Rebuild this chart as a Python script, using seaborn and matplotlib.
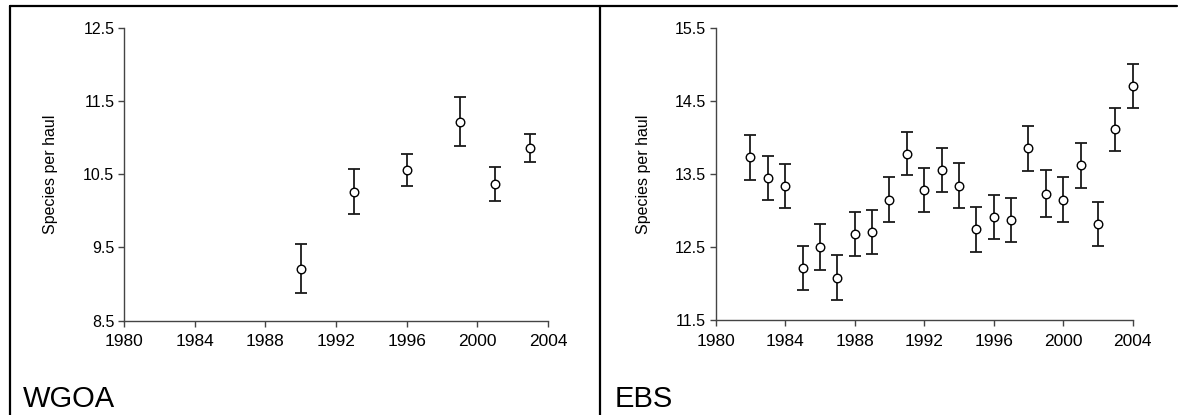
import matplotlib
matplotlib.use("Agg")
import matplotlib.pyplot as plt
import seaborn as sns
import pandas as pd
from matplotlib.lines import Line2D

# WGOA survey years, mean species per haul and error (+/-)
wgoa_years = [1990, 1993, 1996, 1999, 2001, 2003]
wgoa_mean = [9.21, 10.26, 10.56, 11.22, 10.37, 10.86]
wgoa_err = [0.34, 0.31, 0.22, 0.33, 0.23, 0.19]

# EBS survey years, mean species per haul and error (+/-)
ebs_years = list(range(1982, 2005))
ebs_mean = [13.73, 13.44, 13.34, 12.21, 12.50, 12.08, 12.68, 12.71, 13.15, 13.78,
            13.28, 13.55, 13.34, 12.74, 12.91, 12.87, 13.85, 13.23, 13.15, 13.62,
            12.82, 14.11, 14.71]
ebs_err = [0.31, 0.30, 0.30, 0.30, 0.31, 0.31, 0.30, 0.30, 0.31, 0.30,
           0.30, 0.30, 0.31, 0.31, 0.30, 0.30, 0.31, 0.32, 0.31, 0.31,
           0.30, 0.30, 0.30]

x_ticks = [1980, 1984, 1988, 1992, 1996, 2000, 2004]
wgoa_yticks = [8.5, 9.5, 10.5, 11.5, 12.5]
ebs_yticks = [11.5, 12.5, 13.5, 14.5, 15.5]

sns.set_style("ticks")
plt.rcParams['font.family'] = ['Liberation Sans', 'DejaVu Sans']
plt.rcParams['text.color'] = 'black'
plt.rcParams['axes.labelcolor'] = 'black'
plt.rcParams['xtick.labelcolor'] = 'black'
plt.rcParams['ytick.labelcolor'] = 'black'


def draw_panel(ax, years, mean, err, yticks):
    df = pd.DataFrame({"year": years, "mean": mean, "err": err})
    ax.errorbar(df["year"], df["mean"], yerr=df["err"], fmt="none",
                ecolor="#1a1a1a", elinewidth=1.3, capsize=4, capthick=1.3,
                zorder=2, clip_on=False)
    sns.scatterplot(data=df, x="year", y="mean", ax=ax, marker="o", s=38,
                    facecolor="white", edgecolor="black", linewidth=1.0,
                    zorder=3, clip_on=False)
    ax.set_xlim(1980, 2004)
    ax.set_ylim(yticks[0], yticks[-1])
    ax.set_xticks(x_ticks)
    ax.set_yticks(yticks)
    ax.set_yticklabels([f"{t:.1f}" for t in yticks])
    ax.tick_params(axis="x", labelsize=12.5, length=4, width=1, color="#444444", pad=6)
    ax.tick_params(axis="y", labelsize=11.5, length=4, width=1, color="#444444", pad=3)
    for s in ["left", "bottom"]:
        ax.spines[s].set_color("#444444")
        ax.spines[s].set_linewidth(1)
    sns.despine(ax=ax)
    ax.set_xlabel("")
    ax.set_ylabel("Species per haul", fontsize=11.5)
    ax.yaxis.set_label_coords(-0.155, 0.5)
    return ax


fig = plt.figure(figsize=(11.78, 4.15), dpi=100)
ax1 = fig.add_axes([124 / 1178, 1 - 320.5 / 415, 424 / 1178, 292.5 / 415])
ax2 = fig.add_axes([715.7 / 1178, 1 - 320 / 415, 417 / 1178, 292 / 415])

draw_panel(ax1, wgoa_years, wgoa_mean, wgoa_err, wgoa_yticks)
draw_panel(ax2, ebs_years, ebs_mean, ebs_err, ebs_yticks)

# panel names
fig.text(23 / 1178, 1 - 407 / 415, "WGOA", fontsize=21, va="baseline")
fig.text(615 / 1178, 1 - 407 / 415, "EBS", fontsize=21, va="baseline")

# frame lines around the panels
top = 1 - 5.8 / 415
fig.add_artist(Line2D([10 / 1178, 1177 / 1178], [top, top], color="black", lw=1.6))
fig.add_artist(Line2D([10 / 1178, 10 / 1178], [0, top], color="black", lw=1.6))
fig.add_artist(Line2D([600 / 1178, 600 / 1178], [0, top], color="black", lw=1.6))

fig.savefig("out.png", dpi=100)
